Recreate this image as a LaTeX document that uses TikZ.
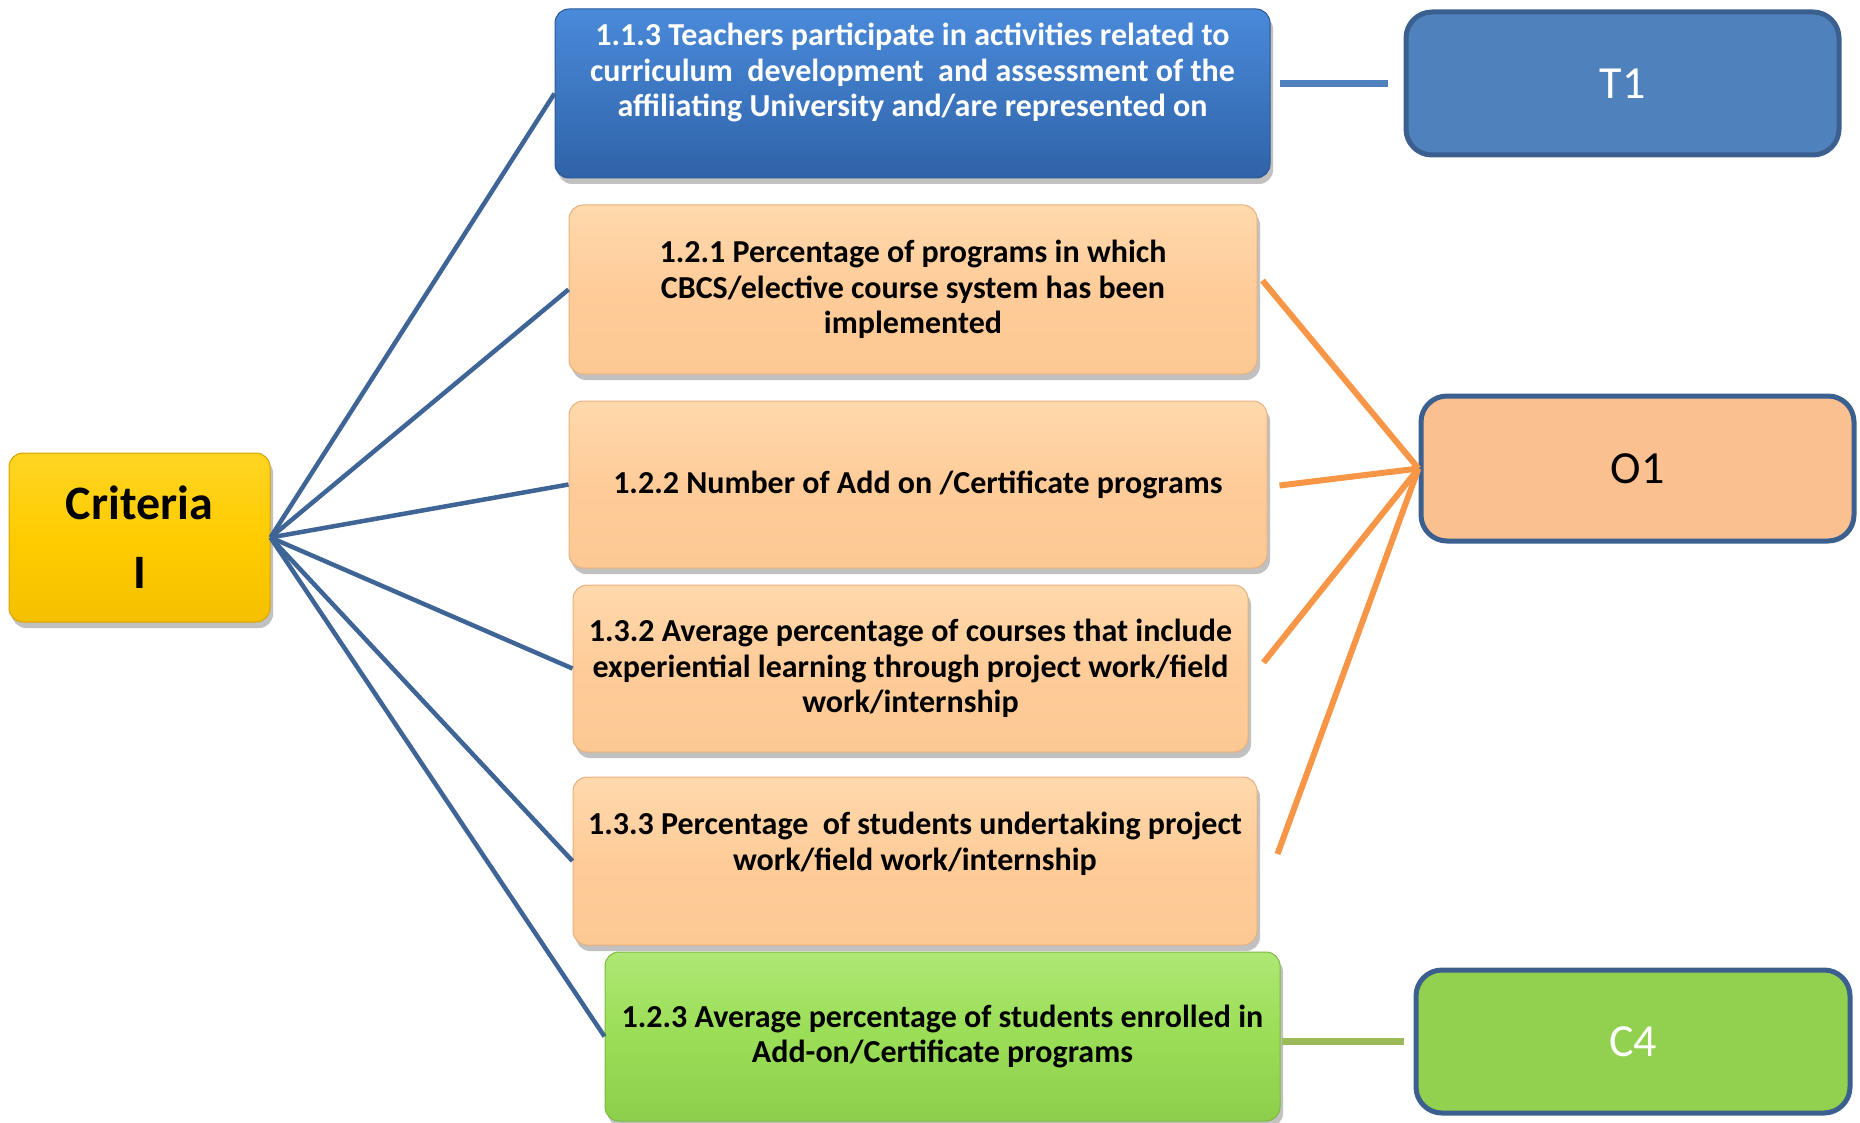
\documentclass[tikz,border=0pt]{standalone}
\usepackage{fontspec}
\setmainfont{Carlito}
\usetikzlibrary{shadows}
\definecolor{BlueTop}{HTML}{4A8ADA}
\definecolor{BlueBot}{HTML}{2F63A8}
\definecolor{BlueEdge}{HTML}{2A5792}
\definecolor{PeachTop}{HTML}{FFD9AC}
\definecolor{PeachMid}{HTML}{FFCC99}
\definecolor{PeachBot}{HTML}{FCC894}
\definecolor{PeachEdge}{HTML}{E8B07E}
\definecolor{GreenTop}{HTML}{AEE874}
\definecolor{GreenMid}{HTML}{9ADD56}
\definecolor{GreenBot}{HTML}{8DCF4C}
\definecolor{GreenEdge}{HTML}{7FB843}
\definecolor{GoldTop}{HTML}{FFD524}
\definecolor{GoldMid}{HTML}{FFCC00}
\definecolor{GoldBot}{HTML}{F5C000}
\definecolor{GoldEdge}{HTML}{D9A300}
\definecolor{OutEdge}{HTML}{3B5F8E}
\definecolor{TFill}{HTML}{4F81BD}
\definecolor{OFill}{HTML}{FAC090}
\definecolor{CFill}{HTML}{92D050}
\definecolor{LineBlue}{HTML}{3F6597}
\definecolor{LineOrange}{HTML}{F79646}
\definecolor{LineGreen}{HTML}{9BBB59}
\begin{document}
\begin{tikzpicture}[x=1pt,y=-1pt,
  shadowed/.style={drop shadow={shadow xshift=3pt,shadow yshift=-6pt,opacity=0.35,fill=black!70}},
  basebox/.style={shadowed, rounded corners=14pt, line width=1pt, inner sep=0pt, align=center},
  bluebox/.style={basebox, draw=BlueEdge, top color=BlueTop, bottom color=BlueBot},
  peachbox/.style={basebox, draw=PeachEdge, top color=PeachTop, bottom color=PeachBot, middle color=PeachMid},
  greenbox/.style={basebox, draw=GreenEdge, top color=GreenTop, bottom color=GreenBot, middle color=GreenMid},
  goldbox/.style={basebox, draw=GoldEdge, top color=GoldTop, bottom color=GoldBot, middle color=GoldMid},
  bodytext/.style={font=\fontsize{32}{35.5}\selectfont\bfseries, align=center, inner sep=0pt},
  outbox/.style={rounded corners=26pt, draw=OutEdge, line width=5pt, font=\fontsize{46}{50}\selectfont, inner sep=0pt},
  bline/.style={draw=LineBlue, line width=4.5pt},
  oline/.style={draw=LineOrange, line width=6pt},
  tline/.style={draw=TFill, line width=7pt},
  cline/.style={draw=LineGreen, line width=7pt}
]
\path[use as bounding box] (0,0) rectangle (1860,1123);

% boxes
\node[bluebox, minimum width=715pt, minimum height=169pt] (b113) at (912.5,93.5) {};
\node[bodytext, text=white] (b113t) at (b113.center) [yshift=21pt]
  {1.1.3 Teachers participate in activities related to\\
   curriculum\ \ development\ \ and assessment of the\\
   affiliating University and/are represented on};

\node[peachbox, bodytext, minimum width=688pt, minimum height=169pt] (b121) at (913,289.5)
  {1.2.1 Percentage of programs in which\\ CBCS/elective course system has been\\ implemented};

\node[peachbox, bodytext, minimum width=698pt, minimum height=167pt] (b122) at (918,484.5)
  {1.2.2 Number of Add on /Certificate programs};

\node[peachbox, bodytext, minimum width=675pt, minimum height=167pt] (b132) at (910.5,668.5)
  {1.3.2 Average percentage of courses that include\\ experiential learning through project work/field\\ work/internship};

\node[peachbox, minimum width=684pt, minimum height=168pt] (b133) at (915,861) {};
\node[bodytext] (b133t) at (b133.center) [yshift=17pt]
  {1.3.3 Percentage\ \ of students undertaking project\\ work/field work/internship};

\node[greenbox, bodytext, minimum width=675pt, minimum height=169pt] (b123) at (942.5,1036.5)
  {1.2.3 Average percentage of students enrolled in\\ Add-on/Certificate programs};

\node[goldbox, minimum width=261pt, minimum height=169pt, font=\fontsize{48}{71}\selectfont\bfseries] (crit) at (139.5,537.5)
  {Criteria\\[-2pt] I};

\node[outbox, fill=TFill, text=white, minimum width=433pt, minimum height=143pt] (T1) at (1622.5,83.5) {T1};
\node[outbox, fill=OFill, text=black, minimum width=433pt, minimum height=145pt] (O1) at (1637.5,468.5) {O1};
\node[outbox, fill=CFill, text=white, minimum width=434pt, minimum height=143pt] (C4) at (1633,1041.5) {C4};

% free ends of the orange connectors
\coordinate (o121) at ([xshift=5pt,yshift=9pt]b121.east);
\coordinate (o122) at ([xshift=12pt,yshift=-1pt]b122.east);
\coordinate (o132) at ([xshift=15pt,yshift=6pt]b132.east);
\coordinate (o133) at ([xshift=20pt,yshift=7pt]b133.east);

% blue fan connectors
\draw[bline] (crit.east) -- (b113.west);
\draw[bline] (crit.east) -- (b121.west);
\draw[bline] (crit.east) -- (b122.west);
\draw[bline] (crit.east) -- (b132.west);
\draw[bline] (crit.east) -- (b133.west);
\draw[bline] (crit.east) -- (b123.west);

% orange connectors
\draw[oline] (o121) -- (O1.west);
\draw[oline] (o122) -- (O1.west);
\draw[oline] (o132) -- (O1.west);
\draw[oline] (o133) -- (O1.west);

% side connectors
\draw[tline, shorten <=9pt, shorten >=16pt] (b113.east |- T1.west) -- (T1.west);
\draw[cline, shorten <=1pt, shorten >=10pt] (b123.east |- C4.west) -- (C4.west);
\end{tikzpicture}
\end{document}
